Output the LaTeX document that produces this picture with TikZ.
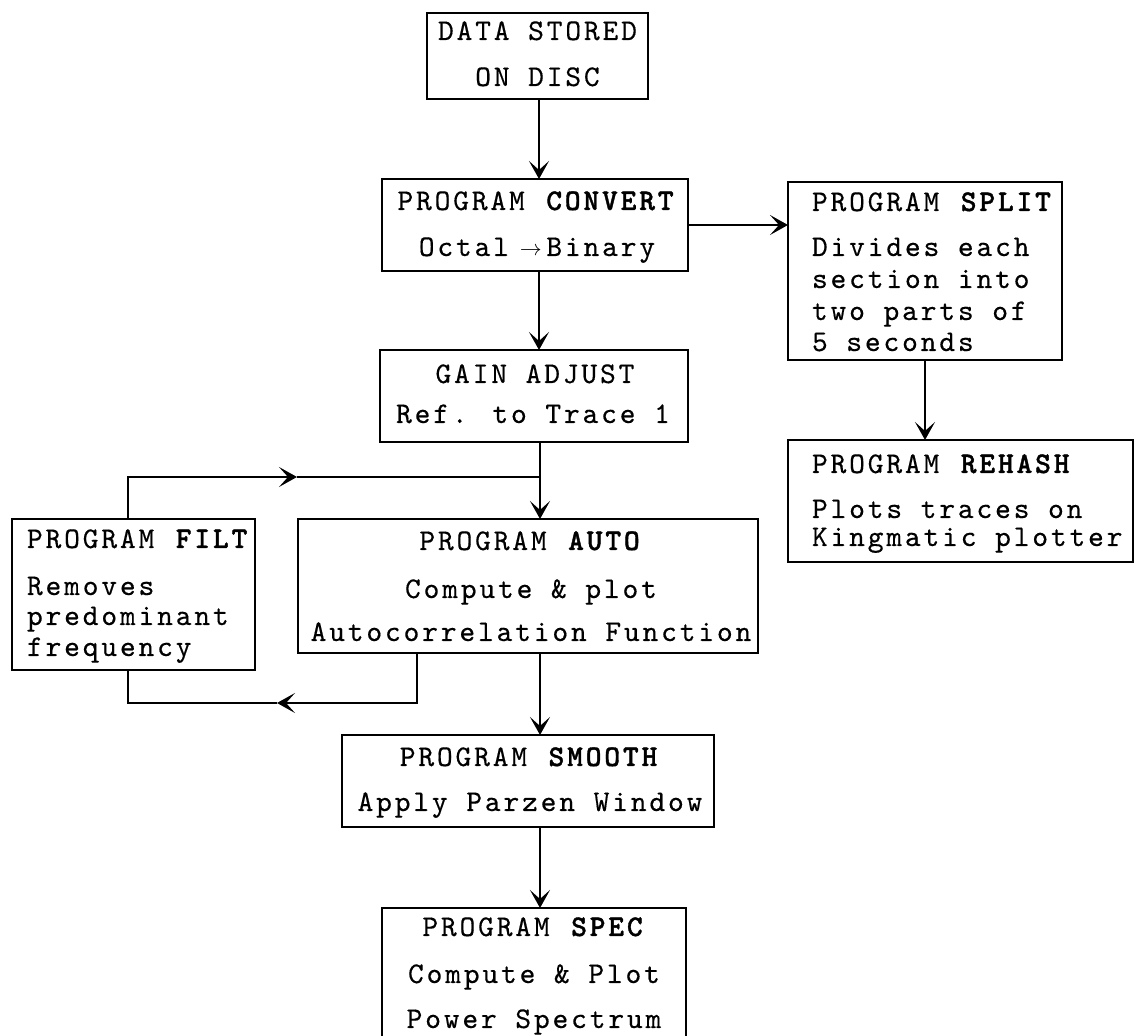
\documentclass[tikz,border=0pt]{standalone}
\usepackage{fontspec}
\usetikzlibrary{arrows.meta}
\newfontfamily\tw{lmmono10-regular}[Extension=.otf, BoldFont=lmmonolt10-bold, FakeBold=0.4, BoldFeatures={FakeBold=1.2}, LetterSpace=9.5]
\begin{document}
\begin{tikzpicture}[x=0.5pt,y=-0.5pt,
  box/.style={draw, line width=1.15pt, inner sep=0pt, outer sep=0pt},
  tx/.style={inner sep=0pt, outer sep=0pt, font=\tw\fontsize{15pt}{17pt}\selectfont},
  conn/.style={line width=0.85pt},
  >={Stealth[length=9pt,width=10pt,inset=4.5pt]}]
\useasboundingbox (0,0) rectangle (1136,1036);

% boxes
\node[box, minimum width=110.5pt, minimum height=43pt] (data) at (537.5,56) {};
\node[box, minimum width=153pt, minimum height=46pt] (conv) at (535,225) {};
\node[box, minimum width=154pt, minimum height=46pt] (gain) at (534,396) {};
\node[box, minimum width=137pt, minimum height=89pt] (split) at (925,271) {};
\node[box, minimum width=172.5pt, minimum height=61pt] (rehash) at (960.5,501) {};
\node[box, minimum width=121.5pt, minimum height=75.5pt] (filt) at (133.5,594.5) {};
\node[box, minimum width=230pt, minimum height=67pt] (auto) at (528,586) {};
\node[box, minimum width=186pt, minimum height=46pt] (smooth) at (528,781) {};
\node[box, minimum width=152pt, minimum height=71pt] (spec) at (534,979) {};

% texts
\node[tx, anchor=base] (d1) at (537.5,40) {DATA STORED};
\node[tx, anchor=base] (d2) at (537.5,86) {ON DISC};
\node[tx, anchor=base] (c1) at (537,210) {PROGRAM \textbf{CONVERT}};
\node[tx, anchor=base] (c2) at (537,256) {Octal\makebox[18.7pt]{\hspace{3pt}$\scriptstyle\rightarrow$}Binary};
\node[tx, anchor=base] (g1) at (535,383) {GAIN ADJUST};
\node[tx, anchor=base] (g2) at (533,423) {Ref. to Trace 1};
\node[tx, anchor=base west] (s1) at (812,211) {PROGRAM \textbf{SPLIT}};
\node[tx, anchor=base west] (s2) at (812,256) {Divides each};
\node[tx, anchor=base west] (s3) at (812,288) {section into};
\node[tx, anchor=base west] (s4) at (812,320) {two parts of};
\node[tx, anchor=base west] (s5) at (812,351) {5 seconds};
\node[tx, anchor=base west] (r1) at (812,473) {PROGRAM \textbf{REHASH}};
\node[tx, anchor=base west] (r2) at (812,518) {Plots traces on};
\node[tx, anchor=base west] (r3) at (812,546) {Kingmatic plotter};
\node[tx, anchor=base west] (f1) at (27,548) {PROGRAM \textbf{FILT}};
\node[tx, anchor=base west] (f2) at (27,595) {Removes};
\node[tx, anchor=base west] (f3) at (27,625) {predominant};
\node[tx, anchor=base west] (f4) at (27,656) {frequency};
\node[tx, anchor=base] (a1) at (531,550) {PROGRAM \textbf{AUTO}};
\node[tx, anchor=base] (a2) at (531,598) {Compute \& plot};
\node[tx, anchor=base] (a3) at (531,641) {Autocorrelation Function};
\node[tx, anchor=base] (m1) at (530,766) {PROGRAM \textbf{SMOOTH}};
\node[tx, anchor=base] (m2) at (530,811) {Apply Parzen Window};
\node[tx, anchor=base] (p1) at (534,936) {PROGRAM \textbf{SPEC}};
\node[tx, anchor=base] (p2) at (534,983) {Compute \& Plot};
\node[tx, anchor=base] (p3) at (534,1028) {Power Spectrum};

% helper coordinates
\coordinate (col) at (539,0);
\coordinate (lt) at (128,477);
\coordinate (am1) at (297,477);
\coordinate (j1) at (540,477);
\coordinate (lb) at (417,703);
\coordinate (am2) at (277,703);
\coordinate (lb2) at (128,703);

% connectors
\draw[conn,->] (data.south -| col) -- (conv.north -| col);
\draw[conn,->] (conv.south -| col) -- (gain.north -| col);
\draw[conn,->] (conv.east) -- (conv.east -| split.west);
\draw[conn,->] (split.south) -- (split.south |- rehash.north);
\draw[conn,->] (gain.south -| j1) -- (auto.north -| j1);
\draw[conn,->] (filt.north -| lt) -- (lt) -- (am1);
\draw[conn] (am1) -- (j1);
\draw[conn,->] (auto.south -| lb) -- (lb) -- (am2);
\draw[conn] (am2) -- (lb2) -- (filt.south -| lb2);
\draw[conn,->] (auto.south -| j1) -- (smooth.north -| j1);
\draw[conn,->] (smooth.south -| j1) -- (spec.north -| j1);
\end{tikzpicture}
\end{document}
